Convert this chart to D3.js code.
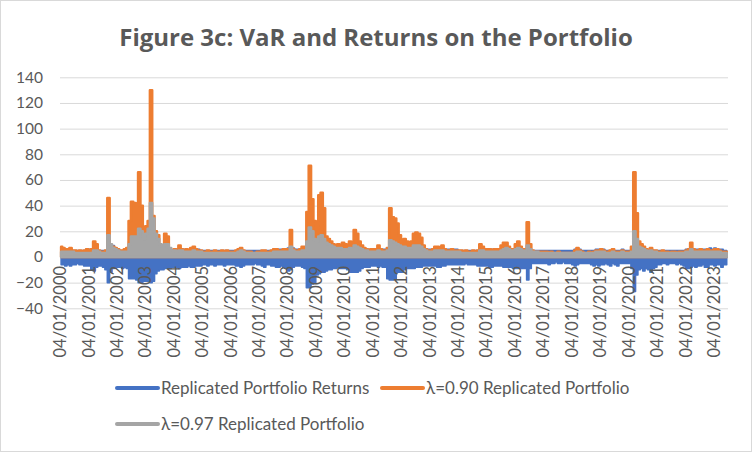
<!DOCTYPE html>
<html><head><meta charset="utf-8">
<script src="https://cdn.jsdelivr.net/npm/d3@7/dist/d3.min.js"></script>
<style>
body{margin:0;background:#fff}
text{font-family:Lato,"Open Sans",sans-serif;fill:#595959}
</style>
</head><body>
<svg id="chart" width="752" height="452"></svg>
<script>
// ---- data (monthly, Jan 2000 .. Jun 2023) ----
const titleText = "Figure 3c: VaR and Returns on the Portfolio";
const startMonth = "2000-01";
const endMonth = "2023-07";
const yTicks = [-40,-20,0,20,40,60,80,100,120,140];
const tickLabels = ["04/01/2000","04/01/2001","04/01/2002","04/01/2003","04/01/2004","04/01/2005","04/01/2006","04/01/2007","04/01/2008","04/01/2009","04/01/2010","04/01/2011","04/01/2012","04/01/2013","04/01/2014","04/01/2015","04/01/2016","04/01/2017","04/01/2018","04/01/2019","04/01/2020","04/01/2021","04/01/2022","04/01/2023"];
const seriesNames = ["Replicated Portfolio Returns","\u03bb=0.90 Replicated Portfolio","\u03bb=0.97 Replicated Portfolio"];

// Replicated portfolio returns: upper and lower envelope per month
const returnsHigh = [
7,6,6,6,6,5,5,5,5,5,5,6,
6,6,9,8,5,5,5,5,12,9,9,7,
6,5,5,6,6,12,14,14,14,15,14,10,
12,14,15,15,10,9,7,7,8,8,6,5,
6,6,6,6,6,6,5,6,6,6,6,5,
5,5,5,5,5,5,5,5,5,5,5,5,
5,5,5,6,6,5,5,5,5,5,5,5,
5,5,5,5,5,5,6,6,6,6,6,6,
7,8,7,6,6,6,7,7,10,15,12,10,
10,12,14,12,9,8,7,7,7,8,8,7,
7,7,7,7,9,8,7,7,7,6,6,6,
6,6,6,6,6,6,6,10,10,9,8,8,
8,8,7,7,7,8,8,7,6,6,6,6,
6,6,6,6,6,6,6,6,6,6,6,6,
5,5,5,5,5,5,5,5,5,6,6,6,
6,6,6,6,6,6,6,7,8,7,6,6,
7,7,6,6,6,8,5,5,5,5,5,5,
5,5,5,5,5,5,5,5,5,5,5,5,
5,6,6,6,5,5,5,5,5,5,6,6,
6,6,5,5,5,6,5,5,5,6,5,5,
5,6,12,10,8,7,6,6,5,6,5,5,
5,5,5,5,5,5,5,5,5,5,5,5,
6,6,7,6,6,6,6,6,6,6,7,6,
7,6,6,6,5,5];
const returnsLow = [
-6,-6,-7,-6,-7,-6,-6,-5,-6,-6,-7,-7,
-7,-10,-11,-8,-7,-7,-8,-10,-20,-12,-9,-8,
-8,-8,-9,-8,-9,-17,-17,-17,-18,-20,-20,-19,
-19,-19,-20,-19,-13,-11,-10,-10,-9,-9,-9,-8,
-8,-8,-9,-8,-8,-8,-7,-8,-8,-7,-7,-7,
-6,-6,-7,-6,-6,-7,-6,-6,-6,-7,-6,-6,
-6,-6,-7,-7,-8,-7,-6,-6,-6,-6,-5,-6,
-6,-7,-8,-6,-6,-7,-7,-8,-8,-7,-8,-9,
-11,-10,-8,-7,-7,-7,-8,-9,-24,-24,-21,-20,
-14,-13,-12,-12,-11,-10,-10,-9,-9,-8,-9,-9,
-9,-10,-12,-12,-12,-12,-11,-9,-8,-8,-8,-7,
-7,-7,-8,-7,-8,-8,-17,-18,-18,-17,-12,-12,
-12,-10,-9,-9,-9,-9,-8,-8,-8,-7,-7,-7,
-7,-7,-7,-8,-8,-7,-7,-6,-6,-6,-6,-6,
-6,-6,-6,-5,-6,-6,-6,-6,-7,-7,-7,-7,
-7,-8,-8,-7,-7,-7,-7,-8,-8,-8,-8,-9,
-9,-9,-9,-9,-9,-18,-9,-5,-5,-5,-5,-5,
-5,-5,-6,-5,-5,-4,-5,-5,-4,-5,-5,-5,
-6,-7,-6,-5,-5,-5,-5,-5,-6,-7,-6,-7,
-6,-6,-5,-6,-7,-5,-6,-7,-5,-5,-5,-5,
-5,-9,-27,-14,-10,-9,-11,-9,-10,-12,-9,-8,
-6,-6,-5,-5,-6,-5,-5,-5,-6,-5,-6,-7,
-9,-9,-8,-7,-8,-7,-7,-6,-8,-8,-6,-6,
-7,-6,-6,-8,-6,-6];
// VaR lambda = 0.90
const var90 = [
8,7,6,6,7,5,5,4,5,4,5,6,
5,6,12,10,5,4,4,5,46,9,8,7,
6,5,5,6,7,28,43,42,40,66,40,14,
24,28,130,32,20,17,9,8,18,16,6,5,
6,5,9,6,5,6,5,7,8,6,5,5,
4,4,5,4,4,5,4,4,5,4,5,4,
4,4,5,6,7,5,4,4,4,3,3,4,
4,5,5,4,4,5,6,6,5,5,6,6,
6,21,6,5,5,6,8,8,35,71,45,28,
22,48,50,38,16,14,12,10,9,10,7,11,
10,9,12,9,21,18,12,9,7,6,5,6,
6,6,9,6,5,5,7,38,31,30,26,17,
12,14,12,10,12,18,19,18,15,9,6,5,
5,6,8,8,7,9,6,5,5,6,5,5,
5,5,4,5,4,4,5,4,5,10,8,6,
6,6,5,6,6,6,9,11,11,8,6,6,
10,12,8,6,6,27,10,5,4,4,4,4,
4,4,3,4,3,3,4,3,3,3,3,3,
3,5,7,5,4,3,3,4,3,4,5,5,
6,5,4,4,5,6,4,4,4,5,4,4,
4,8,66,34,12,10,8,6,5,7,5,5,
4,4,5,4,4,3,4,4,3,4,4,4,
5,6,11,6,5,5,6,5,5,6,5,5,
6,6,5,4,4,4];
// VaR lambda = 0.97
const var97 = [
4,4,4,4,4,4,3,3,3,3,3,3,
3,3,5,5,4,3,3,3,17,10,7,6,
5,4,4,4,4,10,16,16,16,22,20,14,
18,22,42,30,18,14,10,8,10,10,7,5,
5,4,5,5,4,4,4,4,5,4,4,4,
3,3,3,3,3,3,3,3,3,3,3,3,
3,3,3,4,5,4,3,3,3,3,3,3,
3,3,3,3,3,3,4,4,4,4,4,4,
4,8,5,4,4,4,5,5,12,23,20,14,
12,16,17,14,11,10,9,8,7,7,7,6,
6,6,7,6,9,8,7,6,5,5,4,4,
4,4,5,4,4,4,5,13,12,11,10,9,
8,8,7,7,7,9,9,9,8,6,5,4,
4,4,5,5,5,5,4,4,4,4,4,4,
4,3,3,3,3,3,3,3,3,5,5,4,
4,4,4,4,4,4,5,6,7,6,5,5,
6,7,6,5,4,9,6,4,4,4,3,3,
3,3,3,3,3,3,3,3,3,3,3,3,
3,3,4,4,3,3,3,3,3,3,4,4,
4,4,3,3,3,4,3,3,3,4,3,3,
3,4,20,14,8,7,6,5,4,5,4,4,
3,3,3,3,3,3,3,3,3,3,3,3,
4,4,6,4,4,4,4,4,4,4,4,4,
4,4,4,3,3,3];

// ---- layout ----
const W = 752, H = 452;
const plot = {left: 60, right: 728, top: 77.3, bottom: 308.3};
const colors = {ret: "#4472C4", v90: "#ED7D31", v97: "#A5A5A5", grid: "#D9D9D9"};

const svg = d3.select("#chart");
svg.append("rect").attr("x",0.5).attr("y",0.5).attr("width",W-1).attr("height",H-1)
  .attr("fill","#fff").attr("stroke","#D9D9D9");

const parseM = d3.timeParse("%Y-%m");
const parseD = d3.timeParse("%d/%m/%Y");
const t0 = parseM(startMonth);
const dates = var90.map((_, i) => d3.timeDay.offset(d3.timeMonth.offset(t0, i), 14));
const data = dates.map((d, i) => ({date: d, hi: returnsHigh[i], lo: returnsLow[i], v90: var90[i], v97: var97[i]}));

const x = d3.scaleTime().domain([t0, parseM(endMonth)]).range([plot.left, plot.right]);
const y = d3.scaleLinear().domain([-40, 140]).range([plot.bottom, plot.top]);

// gridlines + y labels
const yAxis = d3.axisLeft(y).tickValues(yTicks).tickSize(-(plot.right - plot.left)).tickPadding(17).tickFormat(d3.format("d"));
const gy = svg.append("g").attr("transform", `translate(${plot.left},0)`).call(yAxis);
gy.select(".domain").remove();
gy.selectAll(".tick line").attr("stroke", colors.grid).attr("stroke-width", 1);
gy.selectAll(".tick text").attr("fill", "#595959").style("font-size", "15.5px").style("font-family", 'Lato,sans-serif');

// areas
const curve = d3.curveStep;
const areaRet = d3.area().curve(curve).x(d => x(d.date)).y0(d => y(d.lo)).y1(d => y(d.hi));
const area90 = d3.area().curve(curve).x(d => x(d.date)).y0(y(0)).y1(d => y(d.v90));
const area97 = d3.area().curve(curve).x(d => x(d.date)).y0(y(0)).y1(d => y(d.v97));
svg.append("path").datum(data).attr("d", areaRet).attr("fill", colors.ret).attr("stroke", colors.ret).attr("stroke-width", 1.5).attr("stroke-linejoin","round");
svg.append("path").datum(data).attr("d", area90).attr("fill", colors.v90).attr("stroke", colors.v90).attr("stroke-width", 2.5).attr("stroke-linejoin","round");
svg.append("path").datum(data).attr("d", area97).attr("fill", colors.v97).attr("stroke", colors.v97).attr("stroke-width", 2.5).attr("stroke-linejoin","round");

// x labels (rotated)
const gx = svg.append("g");
tickLabels.forEach(lbl => {
  const px = x(parseD(lbl));
  gx.append("text").attr("transform", `translate(${px},${y(0) + 9}) rotate(-90)`)
    .attr("text-anchor", "end").attr("dy", "0.35em").style("font-size", "16.5px").text(lbl);
});

// title
svg.append("text").attr("x", 376).attr("y", 46).attr("text-anchor", "middle")
  .style("font-family", '"Open Sans",sans-serif')
  .style("font-size", "24px").style("font-weight", "bold").text(titleText);

// legend
const legendItems = [
  {name: seriesNames[0], color: colors.ret, x: 115, y: 388},
  {name: seriesNames[1], color: colors.v90, x: 380, y: 388},
  {name: seriesNames[2], color: colors.v97, x: 115, y: 424}
];
const lg = svg.append("g");
legendItems.forEach(it => {
  lg.append("line").attr("x1", it.x + 2).attr("x2", it.x + 43).attr("y1", it.y).attr("y2", it.y)
    .attr("stroke", it.color).attr("stroke-width", 4).attr("stroke-linecap", "round");
  lg.append("text").attr("x", it.x + 46).attr("y", it.y).attr("dy", "0.35em")
    .style("font-size", "17px").text(it.name);
});
</script>
</body></html>
